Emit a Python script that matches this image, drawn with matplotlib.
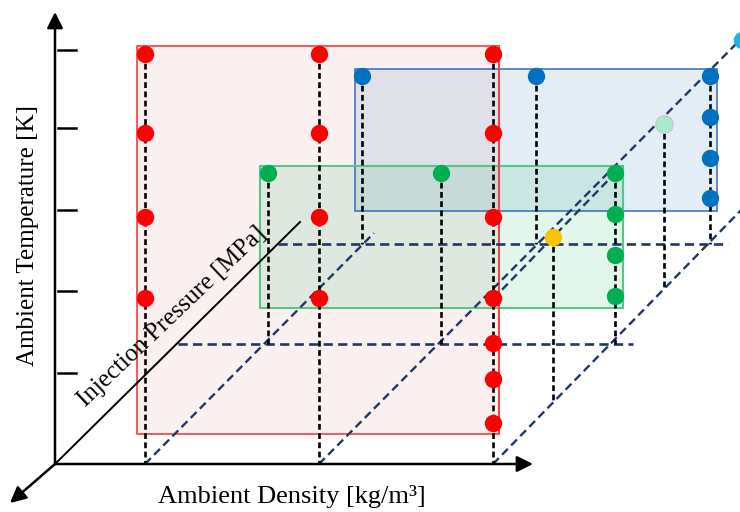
import matplotlib.pyplot as plt
from matplotlib.patches import Rectangle

plt.rcParams['font.family'] = ['Liberation Serif', 'DejaVu Serif']

# schematic drawn in picture units (x right, y down)
origin = (55, 464)
temp_ticks = [50, 128, 210, 291, 373]
density_x = [145, 319, 493]

# red set
red_x = [145, 319, 493]
red_rows = [54, 133, 217, 298]
red_extra_y = [343, 379, 423]

# green set
green_x = [268, 441, 615]
green_top = 173
green_col_y = [214, 255, 296]
green_floor = 344

# blue set
blue_x = [362, 536, 710]
blue_top = 76
blue_col_y = [117, 158, 198]
blue_floor = 244

# single points
yellow_pt = (553, 237, 402)
mint_pt = (664, 124, 288)
cyan_pt = (742, 40)

# boxes: x, y, width, height
red_box = (137, 46, 362, 388)
blue_box = (355, 69, 362, 142)
green_box = (260, 166, 363, 142)

# dashed navy guides
diag_lines = [((145, 464), (374, 233)),
              ((319, 464), (742, 38)),
              ((493, 299), (620, 168)),
              ((493, 464), (748, 203))]
horiz_lines = [(344, 178, 633), (244, 278, 728)]

fig = plt.figure(figsize=(7.4, 5.12), dpi=100)
ax = fig.add_axes([0, 0, 1, 1])
ax.set_xlim(0, 740)
ax.set_ylim(512, 0)
ax.axis('off')

# boxes
ax.add_patch(Rectangle(red_box[:2], red_box[2], red_box[3], facecolor='#fbf0f0',
                       edgecolor='#ff3b3b', lw=1.2, zorder=1))
ax.add_patch(Rectangle(blue_box[:2], blue_box[2], blue_box[3], facecolor='#2e75b6',
                       alpha=0.13, edgecolor='none', zorder=1.2))
ax.add_patch(Rectangle(blue_box[:2], blue_box[2], blue_box[3], facecolor='none',
                       edgecolor='#4472c4', lw=1.2, zorder=1.3))
ax.add_patch(Rectangle(green_box[:2], green_box[2], green_box[3], facecolor='#00b050',
                       alpha=0.11, edgecolor='none', zorder=1.4))
ax.add_patch(Rectangle(green_box[:2], green_box[2], green_box[3], facecolor='none',
                       edgecolor='#5cc489', lw=1.5, zorder=1.5))
ax.plot([red_box[0] + red_box[2]] * 2, [red_box[1], red_box[1] + red_box[3]],
        color='#ff3b3b', lw=1.2, zorder=1.6)

# navy guides
navy = '#1f3864'
for (x0, y0), (x1, y1) in diag_lines:
    ax.plot([x0, x1], [y0, y1], color=navy, lw=1.7, ls=(0, (3.5, 2)), zorder=2)
for y, x0, x1 in horiz_lines:
    ax.plot([x0, x1], [y, y], color=navy, lw=1.9, ls=(0, (3.5, 2)), zorder=2)

# black drop lines
blk = dict(color='black', lw=1.9, ls=(0, (2.2, 1.3)), zorder=3)
for x in density_x:
    ax.plot([x, x], [red_rows[0], origin[1]], **blk)
for x in green_x:
    ax.plot([x, x], [green_top, green_floor], **blk)
for x in blue_x:
    ax.plot([x, x], [blue_top, blue_floor], **blk)
ax.plot([yellow_pt[0]] * 2, [yellow_pt[1], yellow_pt[2]], **blk)
ax.plot([mint_pt[0]] * 2, [mint_pt[1], mint_pt[2]], **blk)

# points
ms = 12.5
for x in red_x:
    ax.plot([x] * len(red_rows), red_rows, 'o', color='#ff0000', ms=ms, mec='none', zorder=5)
ax.plot([red_x[-1]] * len(red_extra_y), red_extra_y, 'o', color='#ff0000', ms=ms, mec='none', zorder=5)
ax.plot(green_x, [green_top] * 3, 'o', color='#00b050', ms=ms, mec='none', zorder=5)
ax.plot([green_x[-1]] * 3, green_col_y, 'o', color='#00b050', ms=ms, mec='none', zorder=5)
ax.plot(blue_x, [blue_top] * 3, 'o', color='#0070c0', ms=ms, mec='none', zorder=5)
ax.plot([blue_x[-1]] * 3, blue_col_y, 'o', color='#0070c0', ms=ms, mec='none', zorder=5)
ax.plot(yellow_pt[0], yellow_pt[1], 'o', color='#ffc000', ms=ms, mec='none', zorder=5)
ax.plot(mint_pt[0], mint_pt[1], 'o', color='#a6ebcb', ms=ms, mec='#c8c8c8', mew=1, zorder=5)
ax.plot(cyan_pt[0], cyan_pt[1], 'o', color='#1cb4ef', ms=ms, mec='none', zorder=5)

# axes
arr = dict(arrowstyle='-|>', color='black', lw=1.8, mutation_scale=24, shrinkA=0, shrinkB=0)
ax.annotate('', xy=(55, 12), xytext=origin, arrowprops=arr)
ax.annotate('', xy=(533, 464), xytext=origin, arrowprops=arr)
ax.annotate('', xy=(10, 503), xytext=origin, arrowprops=arr)
ax.plot([origin[0], 300], [origin[1], 222], color='black', lw=1.4, zorder=4)
for y in temp_ticks:
    ax.plot([58, 76], [y, y], color='black', lw=1.8)

ax.text(28, 236, 'Ambient Temperature [K]', rotation=90, ha='center', va='center', fontsize=18)
ax.text(292, 496, 'Ambient Density [kg/m³]', ha='center', va='center', fontsize=19)
ax.text(172, 317, 'Injection Pressure [MPa]', rotation=43.6, rotation_mode='anchor',
        ha='center', va='center', fontsize=18)

fig.savefig('out.png', dpi=100)
